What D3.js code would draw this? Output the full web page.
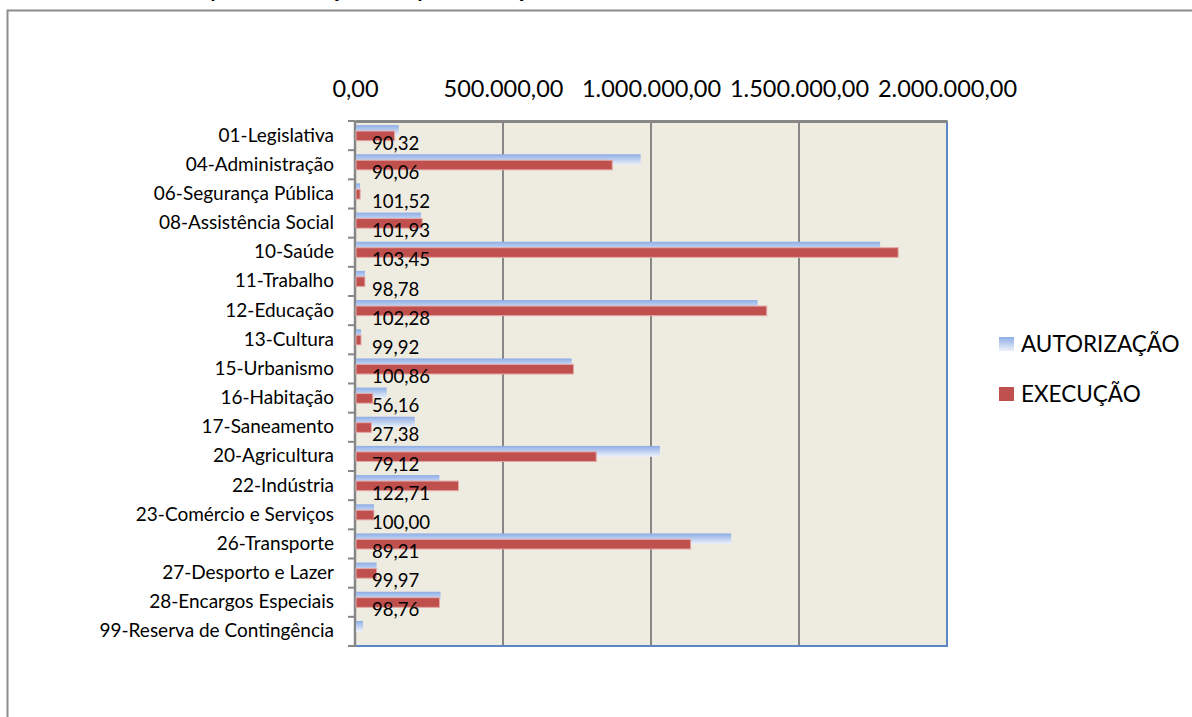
<!DOCTYPE html>
<html>
<head>
<meta charset="utf-8">
<script src="https://cdn.jsdelivr.net/npm/d3@7"></script>
<style>
  body { margin: 0; background: #fff; }
  svg { font-family: Lato, "Open Sans", sans-serif; }
</style>
</head>
<body>
<svg id="graf" width="1192" height="717"></svg>
<script>
// Funções (categorias)
var funcoes = ["01-Legislativa", "04-Administração", "06-Segurança Pública", "08-Assistência Social",
  "10-Saúde", "11-Trabalho", "12-Educação", "13-Cultura", "15-Urbanismo", "16-Habitação",
  "17-Saneamento", "20-Agricultura", "22-Indústria", "23-Comércio e Serviços", "26-Transporte",
  "27-Desporto e Lazer", "28-Encargos Especiais", "99-Reserva de Contingência"];

// Valores
var autorizacao = [148000, 965000, 17000, 223000, 1774000, 33800, 1360000, 20300, 732000, 107000,
  202000, 1030000, 285000, 64000, 1271000, 73000, 289000, 27000];
var execucao = [133700, 869000, 17300, 227000, 1835000, 33400, 1391000, 20300, 738300, 60100,
  55300, 815000, 349700, 64000, 1134000, 73000, 285400, 0];

// Rótulos (% execução / autorização)
var percentual = [90.32, 90.06, 101.52, 101.93, 103.45, 98.78, 102.28, 99.92, 100.86, 56.16,
  27.38, 79.12, 122.71, 100.00, 89.21, 99.97, 98.76, null];

var ticksX = [0, 500000, 1000000, 1500000, 2000000];

var svg = d3.select("#graf");

// moldura externa
svg.append("path")
  .attr("d", "M7.5,717 V10.5 H1192")
  .attr("fill", "none").attr("stroke", "#8c8c8c").attr("stroke-width", 2);

// titulo (cortado em cima, como no original)
svg.append("text")
  .attr("x", 176).attr("y", -3)
  .attr("font-size", 20).attr("font-weight", "bold")
  .text("Despesa Autorização x Despesa Execução");

var fmt = function (v, casas) {
  return d3.format(",." + casas + "f")(v).replace(/,/g, "#").replace(/\./g, ",").replace(/#/g, ".");
};

var esq = 355, dir = 947, topo = 121, baixo = 646;

var x = d3.scaleLinear().domain([0, 2000000]).range([esq, dir]);
var y = d3.scaleBand().domain(funcoes).range([topo, baixo]).padding(0);
var bw = y.bandwidth();

// gradiente da série azul
var defs = svg.append("defs");
var grad = defs.append("linearGradient").attr("id", "gAzul")
  .attr("x1", 0).attr("y1", 0).attr("x2", 0).attr("y2", 1);
grad.append("stop").attr("offset", "0%").attr("stop-color", "#8eade6");
grad.append("stop").attr("offset", "100%").attr("stop-color", "#eef2fa");

// fundo da área de plotagem
svg.append("rect")
  .attr("x", esq).attr("y", topo).attr("width", dir - esq).attr("height", baixo - topo)
  .attr("fill", "#eeebe0");

// linhas de grade
svg.append("g").selectAll("line")
  .data(ticksX.slice(1, -1))
  .enter().append("line")
  .attr("x1", d => x(d)).attr("x2", d => x(d))
  .attr("y1", topo).attr("y2", baixo)
  .attr("stroke", "#878787").attr("stroke-width", 2);

// bordas azuis (direita, baixo)
svg.append("path")
  .attr("d", "M" + esq + "," + baixo + " H" + dir + " V" + topo)
  .attr("fill", "none").attr("stroke", "#5b87c3").attr("stroke-width", 2);

// eixo X no topo
var eixoX = d3.axisTop(x).tickValues(ticksX).tickSize(0).tickFormat(d => fmt(d, 2));
var gx = svg.append("g").attr("transform", "translate(0," + topo + ")").call(eixoX);
gx.select(".domain").attr("stroke", "#878787").attr("stroke-width", 3);
gx.selectAll("text").attr("font-size", 23.5).attr("fill", "#000").attr("dy", 0)
  .attr("y", -24).attr("font-family", "Lato, sans-serif");

// eixo Y (categorias)
svg.append("line")
  .attr("x1", esq).attr("x2", esq).attr("y1", topo).attr("y2", baixo + 1)
  .attr("stroke", "#878787").attr("stroke-width", 2.5);
var limites = funcoes.map(f => y(f)).concat([baixo]);
svg.append("g").selectAll("line")
  .data(limites).enter().append("line")
  .attr("x1", esq - 7).attr("x2", esq).attr("y1", d => d).attr("y2", d => d)
  .attr("stroke", "#878787").attr("stroke-width", 2);

svg.append("g").selectAll("text")
  .data(funcoes).enter().append("text")
  .attr("x", 334).attr("y", d => y(d) + bw / 2 + 6)
  .attr("text-anchor", "end").attr("font-size", 19)
  .text(d => d);

// barras AUTORIZAÇÃO
svg.append("g").selectAll("rect")
  .data(autorizacao).enter().append("rect")
  .attr("x", esq + 1)
  .attr("y", (d, i) => y(funcoes[i]) + bw * 0.14)
  .attr("width", d => Math.max(0, x(d) - esq - 1))
  .attr("height", bw * 0.37)
  .attr("fill", "url(#gAzul)");

// barras EXECUÇÃO
svg.append("g").selectAll("rect")
  .data(execucao).enter().append("rect")
  .attr("x", esq + 1)
  .attr("y", (d, i) => y(funcoes[i]) + bw * 0.345)
  .attr("width", d => Math.max(0, x(d) - esq - 1))
  .attr("height", bw * 0.33)
  .attr("fill", d => d > 0 ? "#c0504d" : "none")
  .attr("stroke", d => d > 0 ? "#e3a9a7" : "none").attr("stroke-width", 1);

// rótulos de dados
svg.append("g").selectAll("text")
  .data(percentual).enter().append("text")
  .attr("x", 372).attr("y", (d, i) => y(funcoes[i]) + bw - 0.5)
  .attr("font-size", 18.6)
  .text(d => d == null ? "" : fmt(d, 2));

// legenda
var legenda = [
  { nome: "AUTORIZAÇÃO", cor: "url(#gAzul)" },
  { nome: "EXECUÇÃO", cor: "#c0504d" }
];
var lg = svg.append("g").selectAll("g")
  .data(legenda).enter().append("g")
  .attr("transform", (d, i) => "translate(999," + (337 + i * 50) + ")");
lg.append("rect").attr("width", 15).attr("height", 14).attr("fill", d => d.cor);
lg.append("text").attr("x", 22).attr("y", 15).attr("font-size", 22.5).text(d => d.nome);
</script>
</body>
</html>
